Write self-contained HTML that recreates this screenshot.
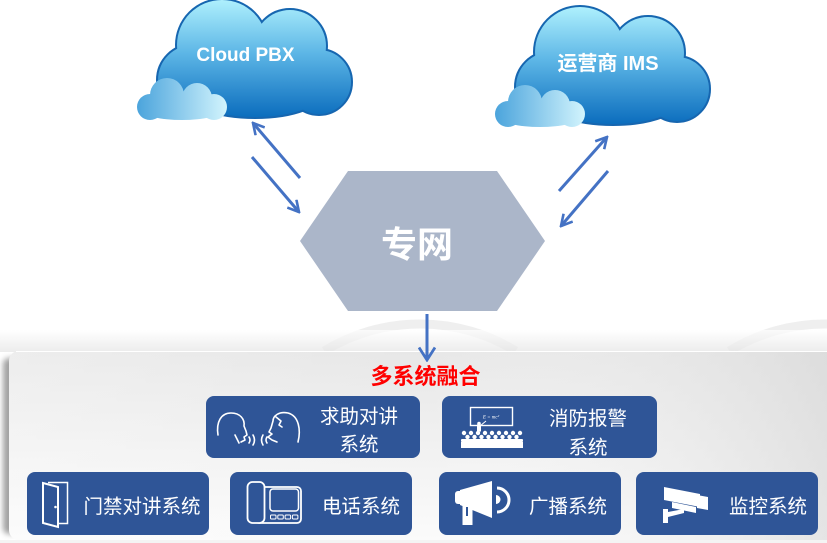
<!DOCTYPE html>
<html><head><meta charset="utf-8">
<style>html,body{margin:0;padding:0;background:#fff;overflow:hidden;width:827px;height:543px}svg{display:block}</style></head>
<body>
<svg width="827" height="543" viewBox="0 0 827 543" xmlns="http://www.w3.org/2000/svg" font-family="'Liberation Sans','Noto Sans CJK SC',sans-serif">
<defs>
<linearGradient id="cg" gradientUnits="userSpaceOnUse" x1="0" y1="0" x2="0" y2="118">
 <stop offset="0" stop-color="#aef0fd"/>
 <stop offset="0.45" stop-color="#5db6e6"/>
 <stop offset="1" stop-color="#0a6cbd"/>
</linearGradient>
<linearGradient id="sg" gradientUnits="userSpaceOnUse" x1="137" y1="0" x2="227" y2="0">
 <stop offset="0" stop-color="#4ba4dc"/>
 <stop offset="1" stop-color="#d2f4fd"/>
</linearGradient>
<linearGradient id="topsh" x1="0" y1="0" x2="0" y2="1">
 <stop offset="0" stop-color="#ffffff"/>
 <stop offset="1" stop-color="#e4e4e4"/>
</linearGradient>
<linearGradient id="pv" x1="0" y1="0" x2="0" y2="1">
 <stop offset="0" stop-color="#e7e7e7"/>
 <stop offset="1" stop-color="#fbfbfb"/>
</linearGradient>
<linearGradient id="ph" x1="0" y1="0" x2="1" y2="0">
 <stop offset="0" stop-color="#ffffff" stop-opacity="0.25"/>
 <stop offset="0.5" stop-color="#ffffff" stop-opacity="0"/>
 <stop offset="1" stop-color="#d6d6d6" stop-opacity="0.6"/>
</linearGradient>
<filter id="blur" x="-50%" y="-5%" width="200%" height="110%"><feGaussianBlur stdDeviation="3"/></filter>
<marker id="ah" viewBox="0 0 14 14" refX="12.5" refY="7" markerWidth="14" markerHeight="14" markerUnits="userSpaceOnUse" orient="auto">
 <path d="M1.5,1 L12.5,7 L1.5,13" fill="none" stroke="#4472c4" stroke-width="2.6" stroke-linejoin="miter"/>
</marker>
<marker id="ah2" viewBox="0 0 16 18" refX="14" refY="9" markerWidth="16" markerHeight="18" markerUnits="userSpaceOnUse" orient="auto">
 <path d="M1.5,1 L14,9 L1.5,17" fill="none" stroke="#4472c4" stroke-width="2.8"/>
</marker>
<g id="cloud">
 <g fill="#1666b0" stroke="#1666b0" stroke-width="4">
  <circle cx="222" cy="45" r="45"/>
  <circle cx="290" cy="46" r="36"/>
  <circle cx="319" cy="82" r="32"/>
  <circle cx="193" cy="80" r="35"/>
  <ellipse cx="255" cy="90" rx="70" ry="27"/>
 </g>
 <g fill="url(#cg)">
  <circle cx="222" cy="45" r="45"/>
  <circle cx="290" cy="46" r="36"/>
  <circle cx="319" cy="82" r="32"/>
  <circle cx="193" cy="80" r="35"/>
  <ellipse cx="255" cy="90" rx="70" ry="27"/>
 </g>
 <g fill="url(#sg)">
  <circle cx="167" cy="95" r="17"/>
  <circle cx="197" cy="98" r="15"/>
  <circle cx="150" cy="107" r="13"/>
  <circle cx="214" cy="107" r="13"/>
  <ellipse cx="182" cy="110" rx="40" ry="10"/>
 </g>
</g>
</defs>

<!-- background arcs -->
<path d="M324.3,351 A183,183 0 0 1 515.7,351" fill="none" stroke="#efefef" stroke-width="9"/>
<path d="M729.3,351 A183,183 0 0 1 827,324" fill="none" stroke="#efefef" stroke-width="9"/>
<rect x="0" y="330" width="827" height="22" fill="url(#topsh)" opacity="0.7"/>

<!-- clouds -->
<use href="#cloud"/>
<use href="#cloud" transform="translate(358,7)"/>
<text x="245.5" y="61" fill="#fff" font-size="19" font-weight="bold" text-anchor="middle">Cloud PBX</text>
<text x="608" y="70" fill="#fff" font-size="20" font-weight="bold" text-anchor="middle">运营商 IMS</text>

<!-- hexagon -->
<polygon points="348,171 497,171 545,241 497,311 348,311 300,241" fill="#abb6c9"/>
<text x="417" y="257" fill="#fff" font-size="36" font-weight="bold" text-anchor="middle">专网</text>

<!-- arrows -->
<g stroke="#4472c4" stroke-width="3" fill="none">
 <line x1="300" y1="178" x2="253" y2="123" marker-end="url(#ah)"/>
 <line x1="252" y1="157" x2="299" y2="212" marker-end="url(#ah)"/>
 <line x1="559" y1="191" x2="607" y2="137" marker-end="url(#ah)"/>
 <line x1="608" y1="171" x2="561" y2="226" marker-end="url(#ah)"/>
</g>

<!-- panel -->
<rect x="3" y="358" width="18" height="176" rx="6" fill="#8a8a8a" filter="url(#blur)" opacity="0.8"/>
<path d="M19,351 H827 V540 H19 A10,10 0 0 1 9,530 V361 A10,10 0 0 1 19,351 Z" fill="url(#pv)"/>
<path d="M19,351 H827 V540 H19 A10,10 0 0 1 9,530 V361 A10,10 0 0 1 19,351 Z" fill="url(#ph)"/>
<line x1="16" y1="351.5" x2="827" y2="351.5" stroke="#ffffff" stroke-width="1"/>
<rect x="0" y="540" width="827" height="3" fill="#f4f4f4"/>

<line x1="427" y1="314" x2="427" y2="360" stroke="#4472c4" stroke-width="3" marker-end="url(#ah2)"/>

<text x="425.5" y="384" fill="#ff0000" font-size="22" font-weight="bold" text-anchor="middle">多系统融合</text>

<!-- boxes -->
<g fill="#2f5597">
 <rect x="206" y="396" width="214" height="62" rx="8"/>
 <rect x="442" y="396" width="215" height="62" rx="8"/>
 <rect x="27" y="472" width="182" height="63" rx="8"/>
 <rect x="230" y="472" width="182" height="63" rx="8"/>
 <rect x="439" y="472" width="182" height="63" rx="8"/>
 <rect x="636" y="472" width="182" height="63" rx="8"/>
</g>

<g fill="#fff" font-size="19.5" text-anchor="middle">
 <text x="359" y="423">求助对讲</text>
 <text x="359" y="451">系统</text>
 <text x="588" y="425">消防报警</text>
 <text x="588" y="454">系统</text>
 <text x="142" y="513">门禁对讲系统</text>
 <text x="361" y="513">电话系统</text>
 <text x="568" y="513">广播系统</text>
 <text x="768" y="513">监控系统</text>
</g>

<!-- speech icon -->
<g stroke="#fff" stroke-width="1.6" fill="none" stroke-linecap="round" stroke-linejoin="round">
 <path d="M218,435 C216,422 221,413 231,413 C240,413 245,419 244,426 L246,431 L247,435 L244,437 L245,440 L241,442"/>
 <path d="M235,435 L239,443"/>
 <path d="M249,437 Q251,440 249,443"/>
 <path d="M253,435 Q256,440 253,445"/>
 <path d="M298,442 C301,430 299,416 288,413 C279,411 273,416 273,421 L271,428 L269,432 L272,434 L268,437 L272,440 L277,442"/>
 <path d="M276,417 L281,421 L279,425 L282,427"/>
 <path d="M267,437 Q265,440 267,443"/>
 <path d="M263,435 Q260,440 263,445"/>
</g>

<!-- classroom icon -->
<g>
 <rect x="470.5" y="407.5" width="42" height="18" fill="none" stroke="#fff" stroke-width="1.4"/>
 <text x="491" y="418.5" fill="#fff" font-size="5" font-family="'Liberation Serif',serif" font-style="italic" text-anchor="middle">E = mc²</text>
 <circle cx="479" cy="423.5" r="1.8" fill="#fff"/>
 <path d="M477.5,425 h3 v6 h-3 z M480,426 L486,421" fill="#fff" stroke="#fff" stroke-width="1"/>
 <g fill="#fff">
  <circle cx="464" cy="433" r="2.2"/><circle cx="471" cy="433" r="2.2"/><circle cx="478" cy="433" r="2.2"/>
  <circle cx="485" cy="433" r="2.2"/><circle cx="492" cy="433" r="2.2"/><circle cx="499" cy="433" r="2.2"/>
  <circle cx="506" cy="433" r="2.2"/><circle cx="513" cy="433" r="2.2"/><circle cx="520" cy="433" r="2.2"/>
  <circle cx="467.5" cy="437" r="2.2"/><circle cx="474.5" cy="437" r="2.2"/><circle cx="481.5" cy="437" r="2.2"/>
  <circle cx="488.5" cy="437" r="2.2"/><circle cx="495.5" cy="437" r="2.2"/><circle cx="502.5" cy="437" r="2.2"/>
  <circle cx="509.5" cy="437" r="2.2"/><circle cx="516.5" cy="437" r="2.2"/>
  <rect x="461" y="439" width="62" height="3" rx="1"/>
  <rect x="461" y="442" width="62" height="6"/>
 </g>
</g>

<!-- door icon -->
<g stroke="#fff" fill="none">
 <polyline points="48,482.5 67.5,482.5 67.5,523.5 59,523.5" stroke-width="1.5"/>
 <polygon points="43,483 58,487 58,527 43,523" stroke-width="2"/>
 <circle cx="55.5" cy="507" r="1.3" fill="#fff" stroke="none"/>
</g>

<!-- phone icon -->
<g stroke="#fff" stroke-width="1.8" fill="none">
 <rect x="255" y="487" width="46" height="36" rx="4"/>
 <rect x="247.5" y="482" width="17" height="41" rx="5" fill="#2f5597"/>
 <rect x="270" y="489" width="28.5" height="22" rx="3" stroke-width="1.5"/>
 <g stroke-width="1">
  <rect x="270.5" y="515" width="5.5" height="4" rx="1"/>
  <rect x="277.8" y="515" width="5.5" height="4" rx="1"/>
  <rect x="285.1" y="515" width="5.5" height="4" rx="1"/>
  <rect x="292.4" y="515" width="5.5" height="4" rx="1"/>
 </g>
</g>

<!-- megaphone icon -->
<g fill="#fff">
 <rect x="455" y="491" width="8" height="13" rx="3"/>
 <polygon points="460,490 492,481 492,518 460,505"/>
 <rect x="462.5" y="503" width="10" height="22"/>
 <rect x="466" y="507" width="2" height="9" fill="#2f5597"/>
 <path d="M496,495 A4.5,4.5 0 0 1 496,504 Z"/>
</g>
<path d="M497,488 A12,12 0 0 1 497,512" fill="none" stroke="#fff" stroke-width="3"/>

<!-- camera icon -->
<g fill="#fff">
 <polygon points="664,487 700,494 700,507 664,500"/>
 <polygon points="697,495 708,497 708,510 697,508"/>
 <polygon points="672,502 696,507 696,513 672,508"/>
 <polygon points="663,509 668,509 668,512 684,509 684,513 668,517 668,523 663,523"/>
</g>
</svg>
</body></html>
